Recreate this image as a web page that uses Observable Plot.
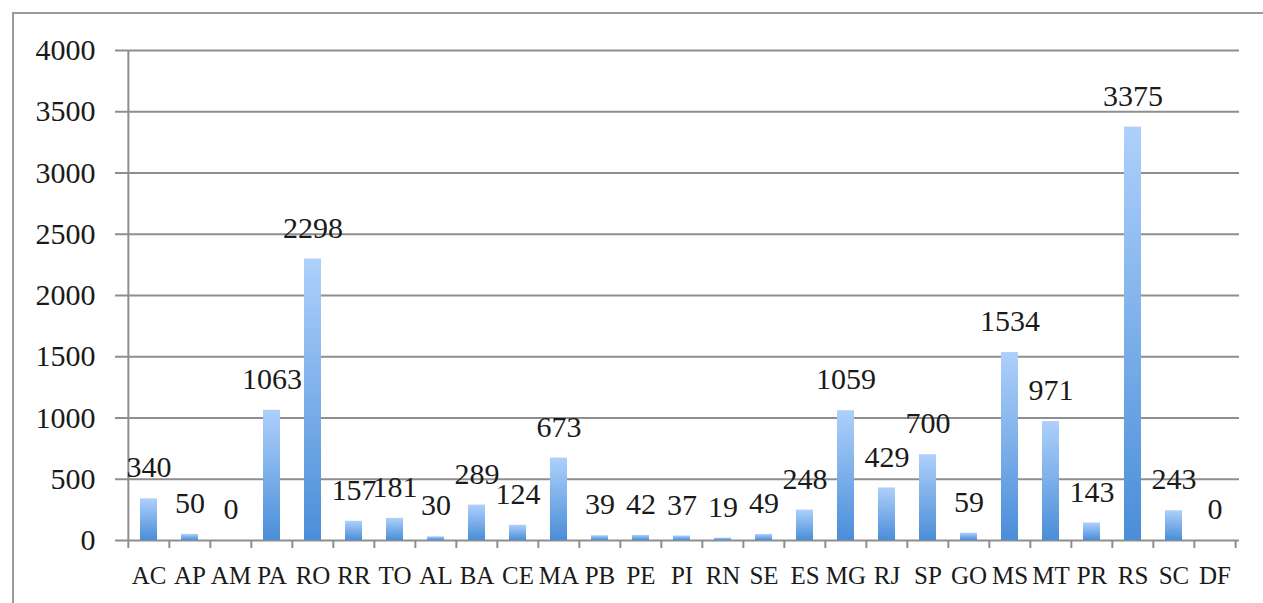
<!DOCTYPE html>
<html>
<head>
<meta charset="utf-8">
<script src="https://cdn.jsdelivr.net/npm/d3@7"></script>
<script src="https://cdn.jsdelivr.net/npm/@observablehq/plot@0.6"></script>
<style>
  html, body { margin: 0; padding: 0; background: #fff; }
  #wrap { position: relative; width: 1263px; height: 603px; overflow: hidden; }
  #frame {
    position: absolute; left: 12px; top: 12px; right: -10px; bottom: -10px;
    border-left: 2px solid #9a9a9a; border-top: 2px solid #9a9a9a;
    pointer-events: none;
  }
  #chart { position: absolute; left: 0; top: 0; }
</style>
</head>
<body>
<div id="wrap">
  <div id="chart"></div>
  <div id="frame"></div>
</div>
<script>
// Brazilian states (UF) and their counts
const states = ["AC","AP","AM","PA","RO","RR","TO","AL","BA","CE","MA","PB","PE","PI","RN","SE","ES","MG","RJ","SP","GO","MS","MT","PR","RS","SC","DF"];
const counts = [340, 50, 0, 1063, 2298, 157, 181, 30, 289, 124, 673, 39, 42, 37, 19, 49, 248, 1059, 429, 700, 59, 1534, 971, 143, 3375, 243, 0];
const yTicks = [0, 500, 1000, 1500, 2000, 2500, 3000, 3500, 4000];

const data = states.map((uf, i) => ({uf, n: counts[i]}));

const W = 1263, H = 603;
const mL = 124, mR = 24, mT = 50, mB = 63;
const step = (W - mL - mR) / states.length;   // width of one category slot
const grid = "#8e8e8e";
const font = "'Liberation Serif', serif";
const ink = "#1a1a1a";

const chart = Plot.plot({
  width: W,
  height: H,
  marginLeft: mL,
  marginRight: mR,
  marginTop: mT,
  marginBottom: mB,
  style: {fontFamily: font, fontSize: "30px", color: ink, background: "transparent"},
  x: {type: "band", domain: states, paddingInner: 0.59, paddingOuter: 0.295, label: null},
  y: {domain: [0, 4000], label: null},
  marks: [
    // horizontal gridlines, poking slightly left of the axis
    Plot.ruleY(yTicks, {stroke: grid, strokeWidth: 2, insetLeft: -9}),
    // vertical axis line
    Plot.ruleX([states[0]], {y1: 0, y2: 4000, dx: -step / 2, stroke: grid, strokeWidth: 2}),
    // category separator ticks below the baseline
    Plot.ruleX(states, {y1: 0, y2: 0, dx: -step / 2, insetBottom: -8, stroke: grid, strokeWidth: 2}),
    Plot.ruleX([states[states.length - 1]], {y1: 0, y2: 0, dx: step / 2, insetBottom: -8, stroke: grid, strokeWidth: 2}),
    Plot.barY(data, {x: "uf", y: "n", fill: "url(#barGrad)"}),
    Plot.text(data, {x: "uf", y: "n", text: d => String(d.n), dy: -31, fontSize: 30, fill: ink}),
    Plot.axisY(yTicks, {tickSize: 0, tickPadding: 29, fontSize: 30, tickFormat: d => String(d)}),
    Plot.axisX({tickSize: 0, tickPadding: 26, fontSize: 25})
  ]
});

// vertical gradient used by every bar: pale blue at the top, deeper blue at the base
const defs = d3.select(chart).insert("defs", ":first-child");
const g = defs.append("linearGradient")
  .attr("id", "barGrad").attr("x1", 0).attr("y1", 0).attr("x2", 0).attr("y2", 1);
g.append("stop").attr("offset", "0%").attr("stop-color", "#aed0fb");
g.append("stop").attr("offset", "100%").attr("stop-color", "#4a8ed8");

document.getElementById("chart").appendChild(chart);
</script>
</body>
</html>
